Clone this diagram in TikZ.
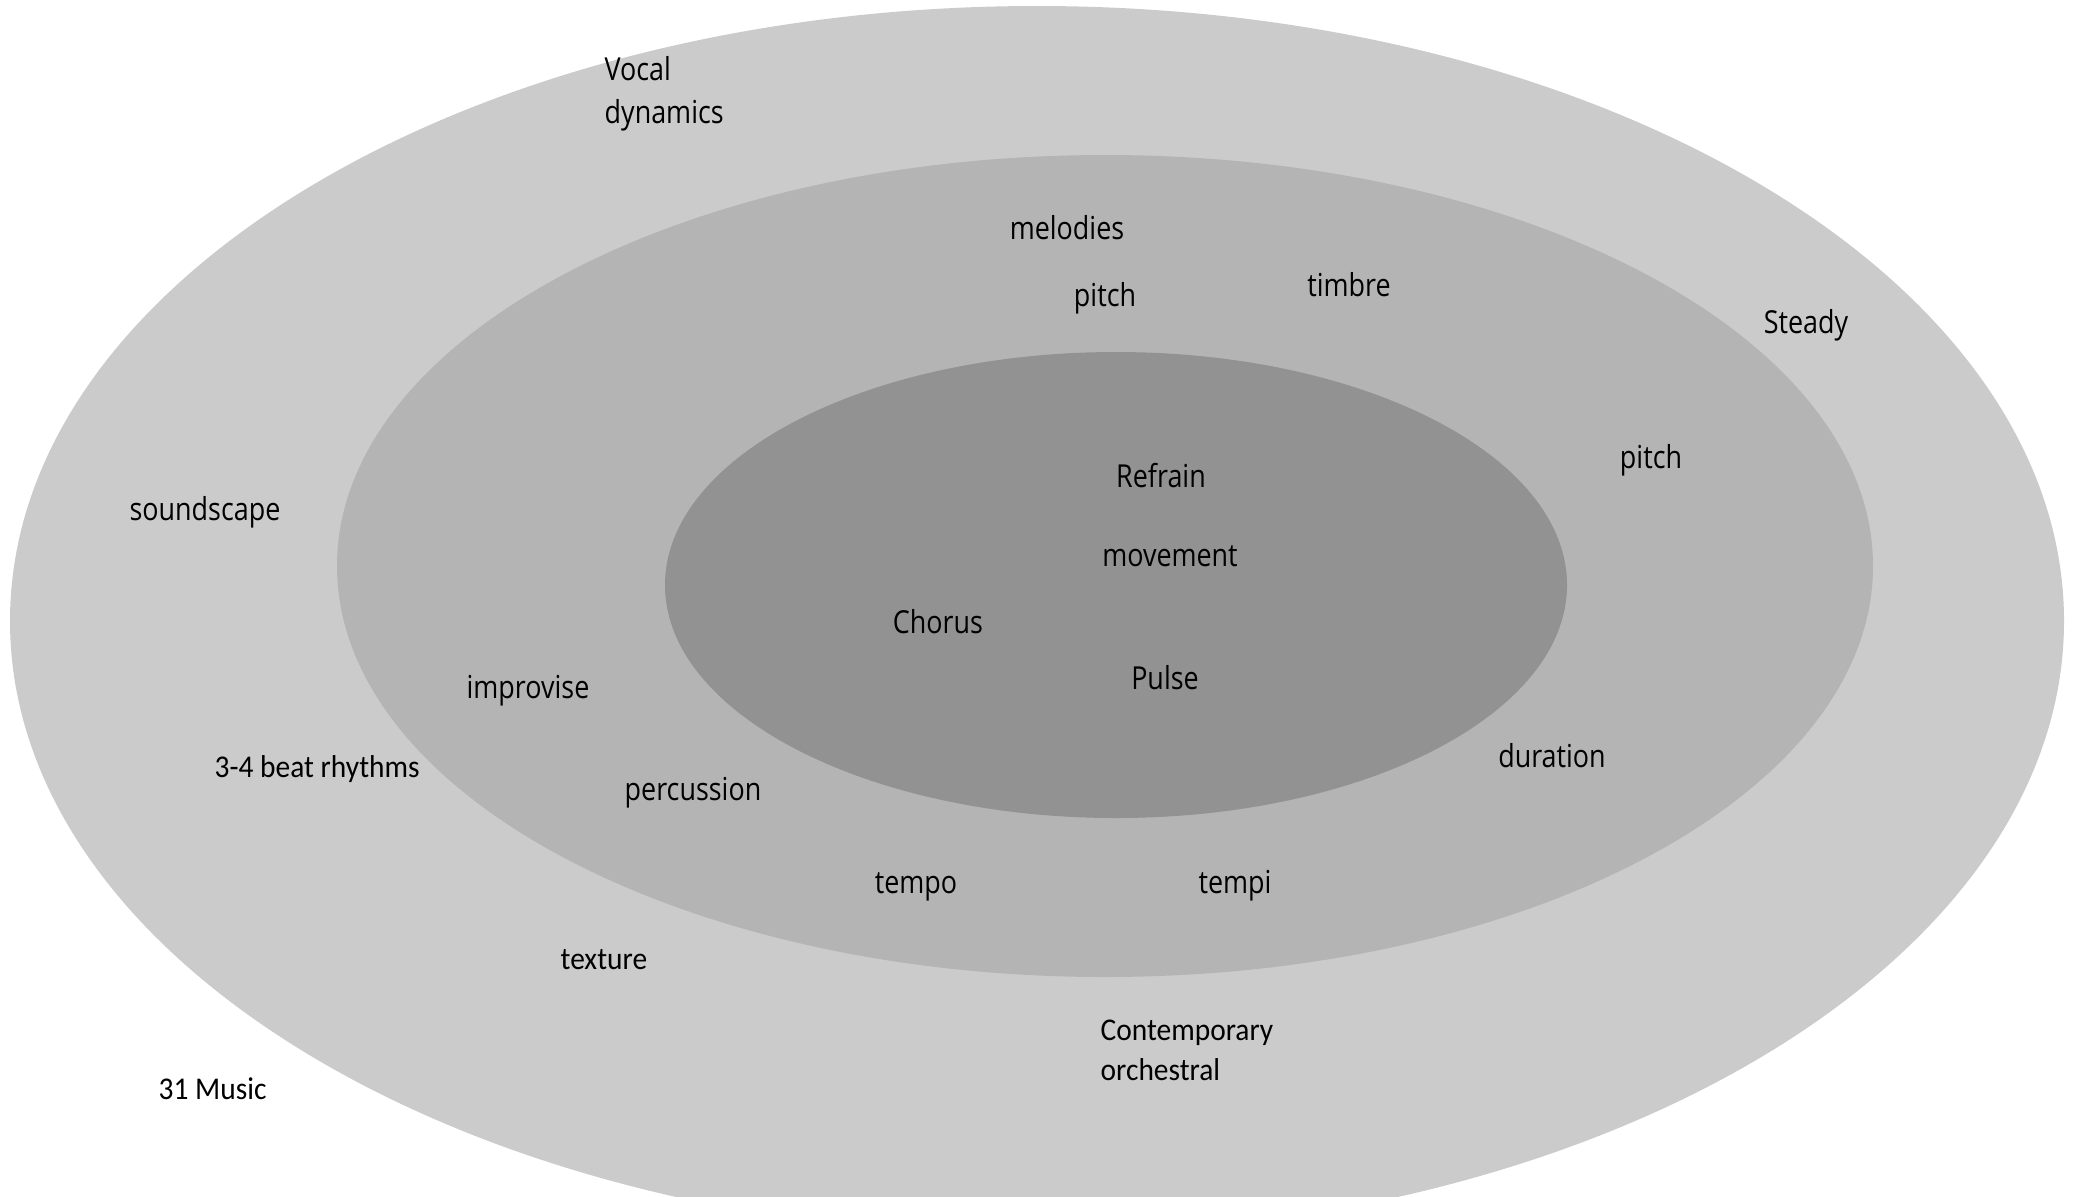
\documentclass[tikz,border=0pt]{standalone}
\usepackage{fontspec}
\newfontfamily\handfont[FakeStretch=0.85]{Open Sans}
\newfontfamily\notefont[FakeStretch=0.93]{Carlito}
\definecolor{ringouter}{RGB}{203,203,203}
\definecolor{ringmiddle}{RGB}{180,180,180}
\definecolor{ringinner}{RGB}{146,146,146}

\begin{document}
\begin{tikzpicture}[
    x=0.01cm, y=-0.01cm,
    term/.style={font=\handfont\fontsize{9}{12.2}\selectfont, anchor=base, inner sep=0pt},
    aside/.style={font=\notefont\fontsize{9}{11.1}\selectfont, anchor=base west, inner sep=0pt, align=left}
]
    \clip (0,0) rectangle (2076,1196);
    \useasboundingbox (0,0) rectangle (2076,1196);

    % rings
    \fill[ringouter] (1037,621) ellipse [x radius=1027, y radius=615];
    \fill[ringmiddle] (1105,566) ellipse [x radius=768, y radius=411];
    \fill[ringinner] (1116,585) ellipse [x radius=451, y radius=233];

    % inner ring
    \node[term] (refrain) at (1161,487) {Refrain};
    \node[term] (movement) at (1170,566) {movement};
    \node[term] (chorus) at (938,633) {Chorus};
    \node[term] (pulse) at (1165,689) {Pulse};

    % middle ring
    \node[term] (melodies) at (1067,239) {melodies};
    \node[term] (pitchtop) at (1105,306) {pitch};
    \node[term] (timbre) at (1349,296) {timbre};
    \node[term] (pitchright) at (1651,468) {pitch};
    \node[term] (improvise) at (528,698) {improvise};
    \node[term] (duration) at (1552,767) {duration};
    \node[term] (percussion) at (693,800) {percussion};
    \node[term] (tempo) at (916,893) {tempo};
    \node[term] (tempi) at (1235,893) {tempi};

    % outer ring (two-line nodes sit on their last baseline)
    \node[term, anchor=base west, align=left] (vocal) at (604,123) {Vocal\\dynamics};
    \node[term] (steady) at (1806,333) {Steady};
    \node[term] (soundscape) at (205,520) {soundscape};
    \node[aside] (rhythms) at (214,777) {3-4 beat rhythms};
    \node[aside] (texture) at (560,969) {texture};
    \node[aside] (orchestral) at (1100,1080) {Contemporary\\orchestral};

    % outside
    \node[aside] (music) at (158,1099) {31 Music};
\end{tikzpicture}
\end{document}
